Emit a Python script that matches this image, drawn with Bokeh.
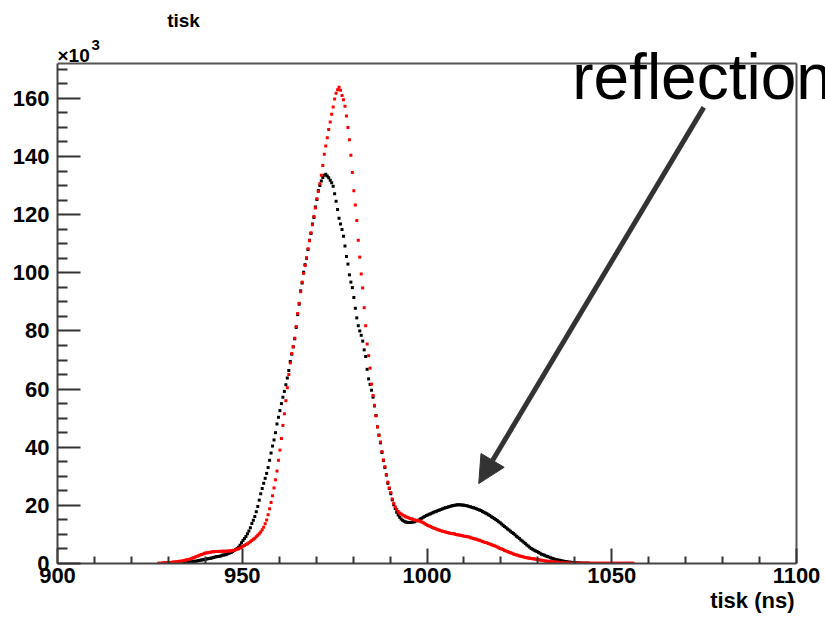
import numpy as np
from bokeh.plotting import figure
from bokeh.models import Label, Arrow, NormalHead, Range1d, FixedTicker, Title
from bokeh.embed import file_html
from bokeh.resources import INLINE

# ---- data (counts in units of 10^3, 0.4 ns bins) ----
bin_width = 0.4
red_start = 927.4
red_counts = [
    0.1, 0.1, 0.1, 0.2, 0.2, 0.2, 0.3, 0.3, 0.3, 0.4,
    0.5, 0.5, 0.6, 0.7, 0.8, 0.8, 0.9, 1.0, 1.1, 1.3,
    1.4, 1.5, 1.7, 1.9, 2.1, 2.3, 2.5, 2.7, 2.9, 3.1,
    3.3, 3.5, 3.6, 3.7, 3.8, 3.9, 4.0, 4.0, 4.1, 4.1,
    4.1, 4.2, 4.1, 4.2, 4.2, 4.2, 4.2, 4.3, 4.3, 4.4,
    4.5, 4.6, 4.7, 4.9, 5.1, 5.3, 5.6, 5.9, 6.2, 6.5,
    6.8, 7.1, 7.5, 7.9, 8.3, 8.7, 9.2, 9.7, 10.2, 10.8,
    11.6, 12.5, 13.7, 15.0, 16.8, 18.8, 21.0, 23.3, 26.0, 28.8,
    31.8, 35.5, 39.0, 43.0, 47.5, 51.5, 56.0, 60.5, 65.0, 69.0,
    72.2, 74.6, 77.5, 81.5, 86.0, 89.5, 93.5, 96.8, 99.8, 102.5,
    105.2, 108.3, 111.0, 113.8, 116.5, 119.4, 122.3, 125.5, 128.0, 130.6,
    133.6, 136.9, 140.8, 143.6, 146.5, 149.3, 151.9, 154.5, 157.0, 159.8,
    161.8, 163.0, 163.8, 162.8, 161.0, 159.5, 157.3, 153.9, 150.0, 145.8,
    140.4, 134.5, 128.2, 123.3, 118.0, 111.2, 105.4, 99.6, 94.8, 88.0,
    81.8, 75.5, 71.5, 67.2, 61.7, 57.8, 54.4, 50.8, 47.0, 44.0,
    41.8, 38.5, 35.6, 33.3, 30.6, 28.0, 26.0, 24.4, 22.2, 20.7,
    19.5, 18.6, 17.9, 17.4, 17.0, 16.7, 16.4, 16.1, 15.9, 15.7,
    15.5, 15.4, 15.2, 15.0, 14.9, 14.8, 14.6, 14.5, 14.3, 14.0,
    13.7, 13.4, 13.1, 12.9, 12.7, 12.4, 12.2, 12.0, 11.8, 11.6,
    11.4, 11.3, 11.1, 11.0, 10.8, 10.7, 10.6, 10.4, 10.3, 10.2,
    10.2, 10.0, 9.9, 9.8, 9.7, 9.6, 9.5, 9.4, 9.3, 9.2,
    9.1, 8.9, 8.8, 8.6, 8.4, 8.3, 8.1, 8.0, 7.8, 7.6,
    7.4, 7.2, 7.1, 6.9, 6.7, 6.5, 6.3, 6.1, 5.9, 5.7,
    5.4, 5.2, 5.0, 4.8, 4.5, 4.3, 4.1, 3.9, 3.7, 3.5,
    3.3, 3.1, 2.9, 2.8, 2.6, 2.5, 2.4, 2.2, 2.1, 2.0,
    1.9, 1.8, 1.7, 1.6, 1.6, 1.5, 1.4, 1.3, 1.2, 1.1,
    1.0, 0.9, 0.9, 0.8, 0.7, 0.7, 0.6, 0.5, 0.5, 0.4,
    0.4, 0.3, 0.3, 0.3, 0.2, 0.2, 0.2, 0.2, 0.1, 0.1,
    0.1, 0.1, 0.1, 0.1, 0.1, 0.05, 0.1, 0.05, 0.05, 0.05,
    0.05, 0.05, 0.05, 0.05, 0.05, 0.05, 0.05, 0.05, 0.05, 0.05,
    0.05, 0.05, 0.05, 0.05, 0.05, 0.05, 0.05, 0.05, 0.05, 0.05,
    0.05, 0.05, 0.05, 0.05, 0.05, 0.05, 0.05, 0.05, 0.05, 0.05,
    0.05, 0.05,
]
black_start = 928.6
black_counts = [
    0.05, 0.05, 0.1, 0.1, 0.1, 0.1, 0.15, 0.2, 0.2, 0.25,
    0.3, 0.3, 0.35, 0.4, 0.4, 0.45, 0.5, 0.55, 0.6, 0.65,
    0.7, 0.75, 0.8, 0.9, 1.0, 1.1, 1.2, 1.3, 1.4, 1.5,
    1.6, 1.7, 1.8, 1.9, 2.1, 2.2, 2.3, 2.4, 2.5, 2.6,
    2.8, 2.9, 3.0, 3.2, 3.4, 3.6, 3.8, 4.1, 4.5, 4.8,
    5.2, 5.6, 6.3, 7.1, 7.9, 8.6, 9.3, 10.2, 11.2, 12.3,
    13.8, 14.9, 16.2, 17.8, 19.6, 21.8, 24.0, 25.8, 27.6, 29.3,
    31.0, 33.0, 35.5, 38.0, 40.4, 42.5, 45.0, 48.0, 50.3, 52.6,
    55.0, 57.2, 59.2, 61.5, 63.8, 66.4, 69.5, 72.0, 74.5, 77.3,
    81.2, 85.6, 89.2, 93.8, 96.5, 100.2, 102.8, 105.0, 108.0, 111.2,
    113.5, 116.8, 119.0, 122.6, 125.2, 128.3, 130.0, 131.6, 132.8, 133.6,
    133.9, 133.3, 132.7, 131.8, 131.0, 129.8, 127.2, 124.6, 121.8, 118.8,
    116.8, 114.9, 112.6, 109.2, 105.6, 103.0, 99.3, 96.8, 94.9, 91.5,
    87.8, 84.5, 81.8, 80.0, 78.5, 76.5, 73.5, 71.2, 66.8, 63.5,
    61.6, 59.6, 57.2, 54.2, 50.9, 47.0, 44.2, 41.5, 38.2, 35.4,
    33.0, 30.4, 27.6, 25.8, 24.0, 21.9, 20.2, 18.9, 17.6, 16.7,
    15.9, 15.3, 14.9, 14.5, 14.3, 14.2, 14.1, 14.1, 14.2, 14.3,
    14.4, 14.6, 14.8, 15.0, 15.3, 15.6, 15.9, 16.2, 16.5, 16.7,
    16.9, 17.1, 17.4, 17.6, 17.8, 18.0, 18.2, 18.4, 18.6, 18.8,
    19.0, 19.2, 19.3, 19.5, 19.6, 19.8, 19.9, 20.0, 20.1, 20.2,
    20.2, 20.2, 20.1, 20.1, 20.0, 19.9, 19.8, 19.6, 19.5, 19.3,
    19.2, 19.0, 18.8, 18.6, 18.4, 18.2, 17.9, 17.6, 17.4, 17.1,
    16.8, 16.5, 16.1, 15.8, 15.5, 15.1, 14.8, 14.4, 14.0, 13.6,
    13.2, 12.7, 12.3, 11.9, 11.5, 11.1, 10.7, 10.3, 9.9, 9.4,
    9.0, 8.6, 8.1, 7.7, 7.3, 6.9, 6.4, 6.0, 5.6, 5.2,
    4.9, 4.6, 4.3, 4.1, 3.8, 3.5, 3.2, 3.0, 2.8, 2.6,
    2.4, 2.2, 2.0, 1.8, 1.6, 1.5, 1.3, 1.2, 1.1, 1.0,
    0.9, 0.8, 0.7, 0.6, 0.5, 0.45, 0.4, 0.35, 0.3, 0.25,
    0.2, 0.2, 0.15, 0.1, 0.1, 0.1, 0.05, 0.05, 0.05,
]
x_ticks = [900, 950, 1000, 1050, 1100]
y_ticks = [0, 20, 40, 60, 80, 100, 120, 140, 160]
x_limits = (900, 1100)
y_limits = (0, 172)
title_text = "tisk"
x_title = "tisk (ns)"
note_text = "reflection"
arrow_from = (1074.9, 156.9)
arrow_to = (1014.0, 27.5)

red_x = red_start + bin_width * np.arange(len(red_counts))
black_x = black_start + bin_width * np.arange(len(black_counts))

FONT = "Liberation Sans"
W, H = 825, 620
ML, MB = 57, 57          # axis panels (left, bottom)
FRAME_W, FRAME_H = 739, 500   # box drawn by the axes
# the drawing area extends to the top and right canvas edges so texts there are not clipped
ppx = FRAME_W / (x_limits[1] - x_limits[0])
ppy = FRAME_H / (y_limits[1] - y_limits[0])
x_end = x_limits[1] + (W - ML - FRAME_W) / ppx
y_end = y_limits[1] + (H - MB - FRAME_H) / ppy

p = figure(width=W, height=H, x_range=Range1d(x_limits[0], x_end), y_range=Range1d(y_limits[0], y_end),
           output_backend="svg", toolbar_location=None,
           min_border_left=ML, min_border_right=0, min_border_top=0, min_border_bottom=MB)
p.background_fill_color = "white"
p.border_fill_color = "white"
p.grid.visible = False
p.outline_line_color = None

x_minor = [v for v in range(900, 1101, 10) if v not in x_ticks]
y_minor = [v for v in range(0, 171, 5) if v not in y_ticks]
p.xaxis.ticker = FixedTicker(ticks=x_ticks, minor_ticks=x_minor)
p.yaxis.ticker = FixedTicker(ticks=y_ticks, minor_ticks=y_minor)
p.xaxis.bounds = x_limits
p.yaxis.bounds = y_limits

for ax, mj, mn, so in ((p.xaxis, 15, 7, 4), (p.yaxis, 23, 10, 8)):
    ax.major_tick_in = mj
    ax.major_tick_out = 0
    ax.minor_tick_in = mn
    ax.minor_tick_out = 0
    ax.major_tick_line_color = "#333333"
    ax.minor_tick_line_color = "#333333"
    ax.major_tick_line_width = 2
    ax.minor_tick_line_width = 2
    ax.axis_line_color = "#444444"
    ax.axis_line_width = 2
    ax.major_label_text_font = FONT
    ax.major_label_text_font_style = "bold"
    ax.major_label_text_font_size = "22px"
    ax.major_label_text_color = "black"
    ax.major_label_standoff = so

# top and right sides of the box
p.segment(x0=[x_limits[0], x_limits[1]], y0=[y_limits[1], y_limits[0]],
          x1=[x_limits[1], x_limits[1]], y1=[y_limits[1], y_limits[1]],
          line_color="#555555", line_width=2)

p.scatter(black_x, black_counts, size=3, marker="square", color="black", line_width=0)
p.scatter(red_x, red_counts, size=3, marker="square", color="red", line_width=0)

def lab(text, x, y, dx, dy, size, bold=True, align="left"):
    p.add_layout(Label(x=x, y=y, x_offset=dx, y_offset=dy, text=text, text_align=align,
                       text_baseline="middle", text_font=FONT,
                       text_font_style="bold" if bold else "normal",
                       text_font_size=f"{size}px", text_color="black"))

lab(title_text, x_limits[0], y_limits[1], 126, 43, 19, align="center")
lab("\u00d710", x_limits[0], y_limits[1], 0, 8.5, 19)
lab("3", x_limits[0], y_limits[1], 34, 18.4, 15)

p.add_layout(Arrow(x_start=arrow_from[0], y_start=arrow_from[1], x_end=arrow_to[0], y_end=arrow_to[1],
                   line_color="#333333", line_width=5,
                   end=NormalHead(size=27, fill_color="#333333", line_color="#333333")))
lab(note_text, 1039.3, 159.3, 0, 23, 64, bold=False)

xt = Title(text=x_title, align="right", offset=31, standoff=0, text_font=FONT,
           text_font_style="bold", text_font_size="22px", text_color="black")
p.add_layout(xt, "below")

open("out.html", "w").write(file_html(p, INLINE))
